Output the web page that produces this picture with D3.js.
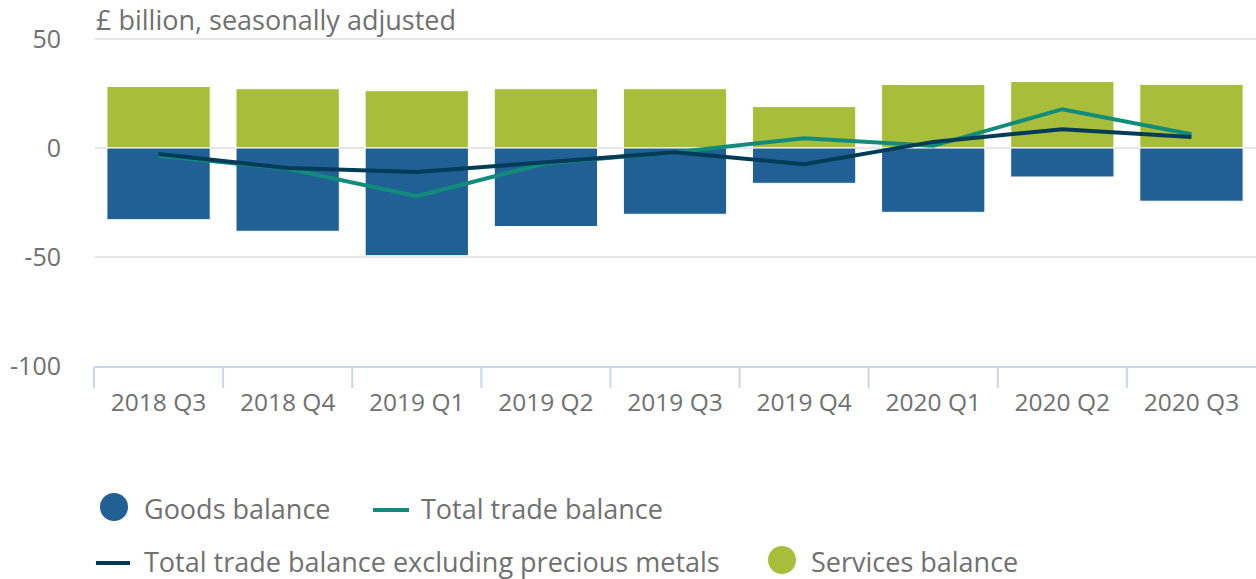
<!DOCTYPE html>
<html lang="en">
<head>
<meta charset="UTF-8">
<title>UK trade balance</title>
<script src="https://d3js.org/d3.v7.min.js"></script>
<style>
    body { margin: 0; background: #fff; font-family: "Open Sans", sans-serif; }
    .legend text { fill: #707070; font-size: 27px; }
</style>
</head>
<body>
<div id="chart"></div>
<script>
    const quarters = ["2018 Q3", "2018 Q4", "2019 Q1", "2019 Q2", "2019 Q3", "2019 Q4", "2020 Q1", "2020 Q2", "2020 Q3"];
    const goodsBalance = [-32.9, -38.2, -49.4, -36.0, -30.4, -16.2, -29.5, -13.3, -24.4];
    const servicesBalance = [28.2, 27.2, 26.3, 27.2, 27.2, 19.0, 29.1, 30.5, 29.2];
    const totalBalance = [-3.6, -9.5, -22.1, -7.0, -1.9, 4.5, 1.0, 17.8, 6.3];
    const totalExclPM = [-2.8, -9.2, -11.0, -6.5, -1.9, -7.4, 2.8, 8.6, 5.1];
    const yTicks = [50, 0, -50, -100];

    const width = 1256, height = 579;
    const svg = d3.select("#chart").append("svg")
        .attr("width", width).attr("height", height);

    const x = d3.scaleBand().domain(quarters).range([94, 1256]).paddingInner(0.2).paddingOuter(0.1);
    const y = d3.scaleLinear().domain([-100, 50]).range([366, 39]);

    // gridlines
    svg.selectAll(".grid").data(yTicks.filter(d => d > -100)).enter()
        .append("line")
        .attr("x1", 95).attr("x2", width)
        .attr("y1", d => y(d)).attr("y2", d => y(d))
        .attr("stroke", "#e6e6e6").attr("stroke-width", 2);

    // y labels
    svg.selectAll(".ylab").data(yTicks).enter()
        .append("text")
        .attr("x", 61).attr("y", d => y(d) + 9)
        .attr("text-anchor", "end")
        .attr("fill", "#707070").style("font-size", "25px")
        .text(d => d);

    svg.append("text")
        .attr("x", 96).attr("y", 30)
        .attr("fill", "#707070").style("font-size", "27px")
        .text("£ billion, seasonally adjusted");

    // bars
    const bars = svg.append("g");
    bars.selectAll(".svc").data(quarters).enter()
        .append("rect")
        .attr("x", d => x(d)).attr("width", x.bandwidth())
        .attr("y", (d, i) => y(servicesBalance[i]))
        .attr("height", (d, i) => y(0) - y(servicesBalance[i]))
        .attr("fill", "#a8bd3a").attr("stroke", "#fff").attr("stroke-width", 1);
    bars.selectAll(".gds").data(quarters).enter()
        .append("rect")
        .attr("x", d => x(d)).attr("width", x.bandwidth())
        .attr("y", y(0))
        .attr("height", (d, i) => y(goodsBalance[i]) - y(0))
        .attr("fill", "#206095").attr("stroke", "#fff").attr("stroke-width", 1);

    // x axis
    const xStep = x.step();
    const axisLeft = x(quarters[0]) - x.paddingOuter() * xStep;
    svg.append("line")
        .attr("x1", axisLeft).attr("x2", width)
        .attr("y1", 367).attr("y2", 367)
        .attr("stroke", "#ccd6eb").attr("stroke-width", 2);
    svg.selectAll(".xtick").data(quarters).enter()
        .append("line")
        .attr("x1", (d, i) => axisLeft + i * xStep).attr("x2", (d, i) => axisLeft + i * xStep)
        .attr("y1", 367).attr("y2", 388)
        .attr("stroke", "#ccd6eb").attr("stroke-width", 2);
    svg.selectAll(".xlab").data(quarters).enter()
        .append("text")
        .attr("x", d => x(d) + x.bandwidth() / 2).attr("y", 411)
        .attr("text-anchor", "middle")
        .attr("fill", "#707070").style("font-size", "24.5px")
        .text(d => d);

    // lines
    const line = d3.line()
        .x((d, i) => x(quarters[i]) + x.bandwidth() / 2)
        .y(d => y(d));
    svg.append("path").datum(totalBalance)
        .attr("d", line).attr("fill", "none")
        .attr("stroke", "#118c7b").attr("stroke-width", 4);
    svg.append("path").datum(totalExclPM)
        .attr("d", line).attr("fill", "none")
        .attr("stroke", "#003c57").attr("stroke-width", 4);

    // legend
    const legend = svg.append("g").attr("class", "legend");
    legend.append("circle").attr("cx", 114).attr("cy", 507).attr("r", 14).attr("fill", "#206095");
    legend.append("text").attr("x", 144).attr("y", 519).text("Goods balance");
    legend.append("line").attr("x1", 373).attr("x2", 409).attr("y1", 510).attr("y2", 510)
        .attr("stroke", "#118c7b").attr("stroke-width", 4);
    legend.append("text").attr("x", 421).attr("y", 519).text("Total trade balance");
    legend.append("line").attr("x1", 96).attr("x2", 130).attr("y1", 563).attr("y2", 563)
        .attr("stroke", "#003c57").attr("stroke-width", 4);
    legend.append("text").attr("x", 144).attr("y", 572).text("Total trade balance excluding precious metals");
    legend.append("circle").attr("cx", 782).attr("cy", 560).attr("r", 14).attr("fill", "#a8bd3a");
    legend.append("text").attr("x", 811).attr("y", 572).text("Services balance");
</script>
</body>
</html>
